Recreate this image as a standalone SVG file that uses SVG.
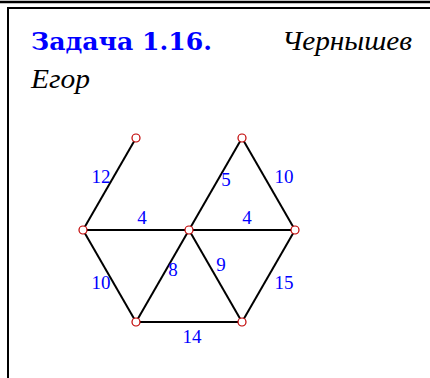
<svg xmlns="http://www.w3.org/2000/svg" width="430" height="378" viewBox="0 0 430 378">
<style>
.frame{stroke:#000;fill:none}
.edge{stroke:#000;stroke-width:2;fill:none}
.node{fill:#fff;stroke:#c00000;stroke-width:1.2}
.lbl{font-family:"Liberation Serif",serif;font-size:19px;fill:#0000ff;text-anchor:middle}
.title{font-family:"DejaVu Serif","Liberation Serif",serif;font-weight:bold;font-size:24px;fill:#0000ff}
.it{font-family:"Liberation Serif",serif;font-style:italic;font-size:27px;fill:#000}
</style>
<rect width="430" height="378" fill="#fff"/>
<g id="frame">
<line class="frame" x1="0" y1="2" x2="430" y2="2" stroke-width="2.5"/>
<polyline class="frame" points="430,8 8,8 8,378" stroke-width="2"/>
</g>
<g id="header">
<text class="title" x="31" y="50" textLength="181" lengthAdjust="spacingAndGlyphs">Задача 1.16.</text>
<text class="it" x="282" y="50" textLength="130" lengthAdjust="spacingAndGlyphs">Чернышев</text>
<text class="it" x="31" y="88" textLength="59" lengthAdjust="spacingAndGlyphs">Егор</text>
</g>
<g id="connectors">
<line class="edge" x1="136" y1="138" x2="83" y2="230"/>
<line class="edge" x1="83" y1="230" x2="295" y2="230"/>
<line class="edge" x1="189" y1="230" x2="242" y2="138"/>
<line class="edge" x1="242" y1="138" x2="295" y2="230"/>
<line class="edge" x1="83" y1="230" x2="136" y2="322"/>
<line class="edge" x1="189" y1="230" x2="136" y2="322"/>
<line class="edge" x1="189" y1="230" x2="242" y2="322"/>
<line class="edge" x1="295" y1="230" x2="242" y2="322"/>
<line class="edge" x1="136" y1="322" x2="242" y2="322"/>
</g>
<g id="labels">
<text class="lbl" x="101" y="183">12</text>
<text class="lbl" x="142" y="224">4</text>
<text class="lbl" x="226" y="186">5</text>
<text class="lbl" x="284" y="183">10</text>
<text class="lbl" x="247" y="224">4</text>
<text class="lbl" x="101" y="289">10</text>
<text class="lbl" x="173" y="276">8</text>
<text class="lbl" x="221" y="271">9</text>
<text class="lbl" x="284" y="289">15</text>
<text class="lbl" x="192" y="343">14</text>
</g>
<g id="n1"><circle class="node" cx="136" cy="138" r="4"/></g>
<g id="n2"><circle class="node" cx="242" cy="138" r="4"/></g>
<g id="n3"><circle class="node" cx="83" cy="230" r="4"/></g>
<g id="n4"><circle class="node" cx="189" cy="230" r="4"/></g>
<g id="n5"><circle class="node" cx="295" cy="230" r="4"/></g>
<g id="n6"><circle class="node" cx="136" cy="322" r="4"/></g>
<g id="n7"><circle class="node" cx="242" cy="322" r="4"/></g>
</svg>
